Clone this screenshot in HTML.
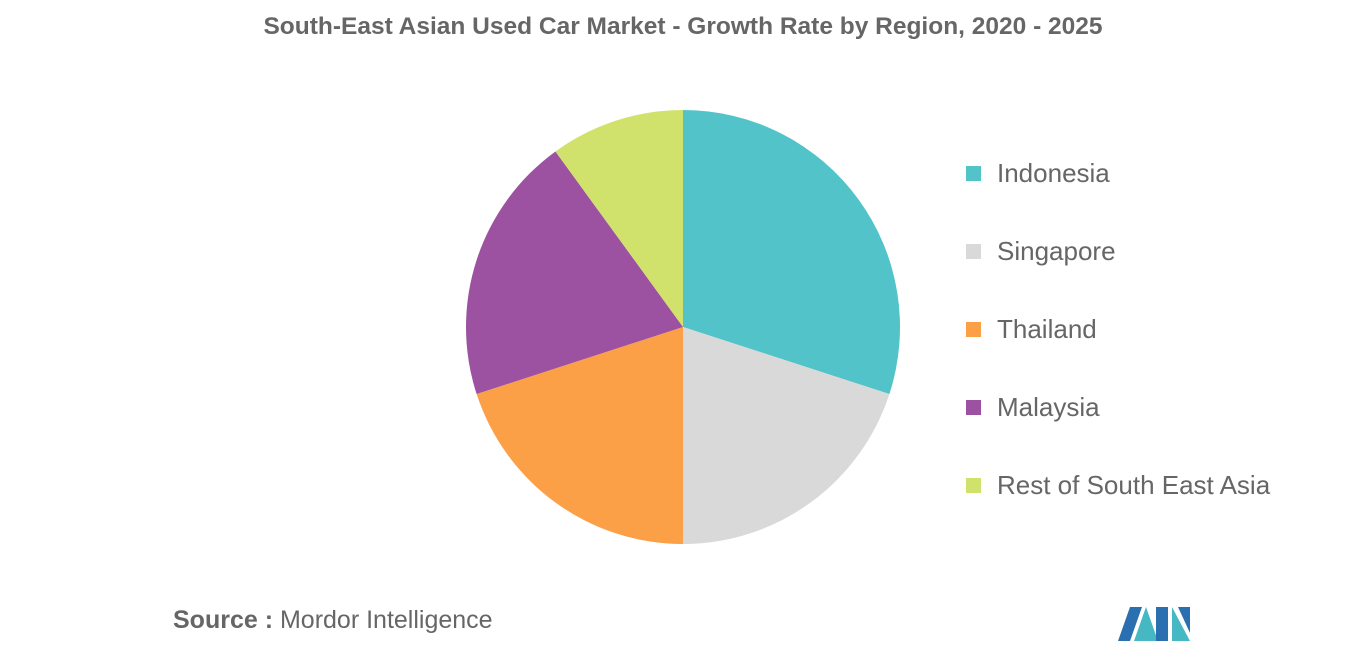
<!DOCTYPE html>
<html><head><meta charset="utf-8"><style>
body{margin:0;width:1366px;height:655px;background:#fff;font-family:"Liberation Sans",sans-serif;overflow:hidden;position:relative}
.title{position:absolute;top:13px;left:0;width:1366px;text-align:center;font-size:24.5px;font-weight:bold;color:#666}
.leg{position:absolute;left:966px;font-size:26px;color:#666;display:flex;align-items:center}
.leg span.sw{width:15px;height:15px;margin-right:16px;display:inline-block}
.src{position:absolute;left:173px;top:606px;font-size:25px;color:#666}
</style></head><body>
<div class="title">South-East Asian Used Car Market - Growth Rate by Region, 2020 - 2025</div>
<svg id="pie" width="1366" height="655" style="position:absolute;left:0;top:0"></svg>
<div id="legend"></div>
<div class="src"><b>Source :</b> Mordor Intelligence</div>
<svg width="80" height="40" style="position:absolute;left:1116px;top:603px">
<polygon points="2,38 14,4 26,4 14,38" fill="#2a6fb0"/>
<polygon points="18,38 30,4 42,38" fill="#45b8c4"/>
<polygon points="40,4 52,4 52,38 40,38" fill="#2a6fb0"/>
<polygon points="56,38 56,4 74,38" fill="#45b8c4"/>
<polygon points="62,4 74,4 74,30" fill="#2a6fb0"/>
</svg>
<script>
const categories=["Indonesia","Singapore","Thailand","Malaysia","Rest of South East Asia"];
const values=[30,20,20,20,10];
const colors=["#52c3c8","#d9d9d9","#fba047","#9c52a0","#d0e26b"];
const cx=683,cy=327,r=217;
const svg=document.getElementById('pie');
const total=values.reduce((a,b)=>a+b,0);
let a0=0;
values.forEach((v,i)=>{
  const a1=a0+v/total*2*Math.PI;
  const x0=cx+r*Math.sin(a0),y0=cy-r*Math.cos(a0),x1=cx+r*Math.sin(a1),y1=cy-r*Math.cos(a1);
  const p=document.createElementNS('http://www.w3.org/2000/svg','path');
  p.setAttribute('d',`M${cx},${cy}L${x0},${y0}A${r},${r} 0 ${a1-a0>Math.PI?1:0} 1 ${x1},${y1}Z`);
  p.setAttribute('fill',colors[i]);
  
  
  svg.appendChild(p);
  a0=a1;
});
const leg=document.getElementById('legend');
categories.forEach((c,i)=>{
  const d=document.createElement('div');
  d.className='leg';d.style.top=(158+i*78)+'px';
  
  
  d.innerHTML=`<span class="sw" style="background:${colors[i]}"></span>${c}`;
  leg.appendChild(d);
});
</script>
</body></html>
